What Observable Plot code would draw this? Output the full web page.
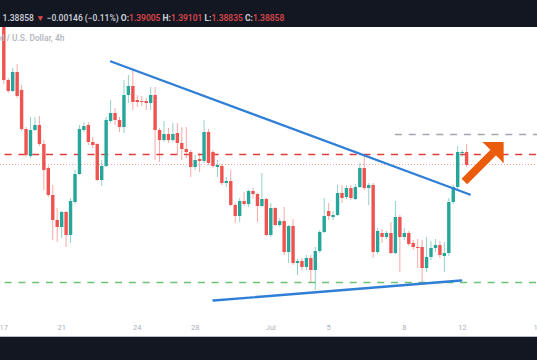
<!DOCTYPE html>
<html><head><meta charset="utf-8">
<script src="https://cdn.jsdelivr.net/npm/d3@7"></script>
<script src="https://cdn.jsdelivr.net/npm/@observablehq/plot@0.6"></script>
<style>
html,body{margin:0;padding:0;background:#fff;}
#wrap{position:relative;width:537px;height:360px;overflow:hidden;font-family:Roboto,"Noto Sans",sans-serif;background:#fff;}
#top{position:absolute;left:0;top:0;width:537px;height:27px;background:#131722;}
#hdr{position:absolute;left:2.6px;top:13px;font-size:8.5px;line-height:11px;color:#d1d4dc;white-space:nowrap;font-weight:500;}
#hdr .r{color:#e0474c;}
#hdr b{font-weight:700;color:#d1d4dc;}
#chart{position:absolute;left:0;top:27px;width:537px;height:309px;}
#chart svg{display:block;}
#title{position:absolute;top:32.5px;font-size:8.4px;line-height:11px;color:#b6b9c1;white-space:nowrap;font-weight:600;}
#sep{position:absolute;left:0;top:336px;width:537px;height:1px;background:#b9bcc3;}
#bot{position:absolute;left:0;top:337px;width:537px;height:23px;background:#131722;}
</style>
</head><body>
<div id="wrap">
  <div id="top"><div id="hdr"><span>1.38858</span> <span class="r">▼</span> <span>−0.00146 (−0.11%)</span> <b>O:</b><span class="r">1.39005</span> <b>H:</b><span class="r">1.39101</span> <b>L:</b><span class="r">1.38835</span> <b>C:</b><span class="r">1.38858</span></div></div>
  <div id="chart"></div>
  <div id="title"><span id="tpre">British Pound </span><span>/ U.S. Dollar, 4h</span></div>
  <div id="sep"></div>
  <div id="bot"></div>
</div>
<script>
// 4h candles, GBP/USD
const open = [1.4026,1.3970,1.3959,1.3978,1.3960,1.3921,1.3894,1.3920,1.3925,1.3906,
1.3882,1.3855,1.3830,1.3823,1.3838,1.3815,1.3848,1.3876,1.3920,1.3925,
1.3908,1.3906,1.3870,1.3884,1.3929,1.3937,1.3930,1.3923,1.3955,1.3964,
1.3950,1.3949,1.3949,1.3947,1.3955,1.3920,1.3910,1.3916,1.3910,1.3917,
1.3907,1.3901,1.3898,1.3883,1.3891,1.3889,1.3918,1.3898,1.3883,1.3884,
1.3867,1.3869,1.3845,1.3834,1.3849,1.3846,1.3859,1.3856,1.3844,1.3851,
1.3815,1.3842,1.3825,1.3829,1.3798,1.3824,1.3787,1.3789,1.3783,1.3792,
1.3780,1.3799,1.3818,1.3839,1.3833,1.3835,1.3857,1.3853,1.3862,1.3851,
1.3863,1.3882,1.3862,1.3865,1.3798,1.3817,1.3813,1.3817,1.3797,1.3833,
1.3813,1.3817,1.3807,1.3803,1.3803,1.3782,1.3793,1.3802,1.3805,1.3794,
1.3797,1.3848,1.3863,1.3897,1.3898];
const high = [1.4030,1.3972,1.3982,1.3986,1.3965,1.3923,1.3933,1.3933,1.3934,1.3910,
1.3884,1.3865,1.3842,1.3839,1.3839,1.3852,1.3880,1.3925,1.3928,1.3928,
1.3913,1.3907,1.3890,1.3933,1.3950,1.3942,1.3933,1.3970,1.3975,1.3980,
1.3955,1.3954,1.3952,1.3963,1.3963,1.3922,1.3929,1.3922,1.3927,1.3927,
1.3923,1.3923,1.3900,1.3895,1.3897,1.3930,1.3921,1.3900,1.3890,1.3886,
1.3873,1.3880,1.3847,1.3852,1.3858,1.3860,1.3862,1.3857,1.3877,1.3852,
1.3847,1.3843,1.3832,1.3843,1.3825,1.3831,1.3791,1.3792,1.3795,1.3795,
1.3803,1.3820,1.3852,1.3847,1.3839,1.3865,1.3865,1.3865,1.3865,1.3866,
1.3887,1.3896,1.3867,1.3867,1.3822,1.3821,1.3819,1.3828,1.3849,1.3835,
1.3822,1.3819,1.3810,1.3811,1.3810,1.3813,1.3809,1.3811,1.3809,1.3808,
1.3852,1.3865,1.3904,1.3900,1.3906];
const low = [1.3966,1.3957,1.3958,1.3952,1.3919,1.3893,1.3892,1.3919,1.3904,1.3860,
1.3853,1.3810,1.3808,1.3812,1.3803,1.3807,1.3846,1.3875,1.3918,1.3905,
1.3902,1.3869,1.3864,1.3883,1.3927,1.3925,1.3918,1.3917,1.3947,1.3940,
1.3943,1.3944,1.3940,1.3940,1.3890,1.3888,1.3908,1.3907,1.3908,1.3895,
1.3890,1.3892,1.3873,1.3880,1.3878,1.3887,1.3885,1.3882,1.3873,1.3865,
1.3863,1.3844,1.3827,1.3828,1.3844,1.3843,1.3851,1.3828,1.3843,1.3814,
1.3813,1.3824,1.3823,1.3795,1.3787,1.3785,1.3775,1.3780,1.3780,1.3768,
1.3760,1.3797,1.3817,1.3830,1.3830,1.3834,1.3847,1.3851,1.3850,1.3850,
1.3862,1.3860,1.3845,1.3792,1.3796,1.3807,1.3811,1.3796,1.3796,1.3778,
1.3810,1.3804,1.3800,1.3782,1.3767,1.3778,1.3790,1.3798,1.3792,1.3778,
1.3794,1.3846,1.3861,1.3893,1.3883];
const close = [1.3970,1.3959,1.3978,1.3954,1.3921,1.3895,1.3920,1.3925,1.3906,1.3880,
1.3855,1.3830,1.3823,1.3838,1.3815,1.3849,1.3876,1.3921,1.3924,1.3908,
1.3905,1.3870,1.3884,1.3930,1.3937,1.3930,1.3923,1.3955,1.3964,1.3948,
1.3948,1.3948,1.3947,1.3955,1.3920,1.3910,1.3916,1.3910,1.3916,1.3907,
1.3901,1.3898,1.3883,1.3890,1.3889,1.3918,1.3887,1.3884,1.3885,1.3867,
1.3869,1.3845,1.3834,1.3849,1.3846,1.3859,1.3856,1.3844,1.3851,1.3815,
1.3842,1.3825,1.3829,1.3798,1.3824,1.3787,1.3789,1.3783,1.3792,1.3780,
1.3799,1.3818,1.3834,1.3834,1.3835,1.3857,1.3852,1.3862,1.3852,1.3863,
1.3882,1.3862,1.3865,1.3798,1.3819,1.3813,1.3817,1.3797,1.3833,1.3813,
1.3817,1.3806,1.3803,1.3802,1.3782,1.3793,1.3802,1.3805,1.3795,1.3797,
1.3848,1.3863,1.3898,1.3898,1.3885];

// x-axis day labels at candle index
const tickIndex = [0, 13, 30, 43, 60, 73, 90, 103, 120];
const tickLabels = ["17", "21", "24", "28", "Jul", "5", "8", "12", "15"];

// horizontal levels
const resistancePrice = 1.3896;  // red dashed
const lastPrice = 1.3886;        // pink dotted
const targetPrice = 1.3916;      // gray dashed
const supportPrice = 1.3768;     // green dashed
const targetFrom = 88;

// trend lines (candle index, price)
const upperTrend = [{i: 24.1, p: 1.3989}, {i: 104.7, p: 1.3856}];
const lowerTrend = [{i: 47.1, p: 1.3750}, {i: 102.8, p: 1.3770}];

// breakout arrow
const arrowShaft = [{i: 103.5, p: 1.3869}, {i: 110.0, p: 1.3898}];
const arrowHead = [{i: 107.7, p: 1.3908}, {i: 112.2, p: 1.3908}, {i: 112.2, p: 1.3888}];

const UP = "#26a69a", DOWN = "#ef5350";
const candles = open.map((o, k) => ({i: k, o, h: high[k], l: low[k], c: close[k], col: close[k] >= o ? UP : DOWN}));
const labelOf = new Map(tickIndex.map((t, k) => [t, tickLabels[k]]));

const xmin = -0.742, xmax = 119.93;
const chart = Plot.plot({
  width: 537, height: 309,
  marginLeft: 0, marginRight: 0, marginTop: 0, marginBottom: 21,
  x: {type: "linear", domain: [xmin, xmax]},
  y: {domain: [1.3735, 1.4023], axis: null},
  color: {type: "identity"},
  style: {background: "#ffffff", overflow: "hidden"},
  marks: [
    Plot.ruleY([lastPrice], {x1: xmin, x2: xmax, stroke: "#f4a3a3", strokeWidth: 1, strokeDasharray: "1,2"}),
    Plot.ruleY([resistancePrice], {x1: 0.3, x2: xmax, stroke: "#e23b3b", strokeWidth: 1.6, strokeDasharray: "7,6.8"}),
    Plot.ruleY([supportPrice], {x1: 0.3, x2: xmax, stroke: "#6fc174", strokeWidth: 1.6, strokeDasharray: "7,6.8"}),
    Plot.ruleY([targetPrice], {x1: targetFrom, x2: xmax, stroke: "#a3a6ad", strokeWidth: 1.4, strokeDasharray: "7,6.8"}),
    Plot.ruleX(candles, {x: "i", y1: "l", y2: "h", stroke: "col", strokeOpacity: 0.5, strokeWidth: 1, clip: true}),
    Plot.ruleX(candles, {x: "i", y1: "o", y2: "c", stroke: "col", strokeWidth: 3.4, clip: true}),
    Plot.line(upperTrend, {x: "i", y: "p", stroke: "#2f7fd6", strokeWidth: 2.3}),
    Plot.line(lowerTrend, {x: "i", y: "p", stroke: "#2f7fd6", strokeWidth: 2.3}),
    Plot.line(arrowShaft, {x: "i", y: "p", stroke: "#ea5c0b", strokeWidth: 8, strokeLinecap: "butt"}),
    Plot.line(arrowHead, {x: "i", y: "p", fill: "#ea5c0b", stroke: "#ea5c0b", strokeWidth: 1, strokeLinejoin: "miter"}),
    Plot.axisX({ticks: tickIndex, tickFormat: d => labelOf.get(d), tickSize: 0, tickPadding: 9, fontSize: 7.5, fill: "#aeb1b9", label: null, fontFamily: "Roboto, sans-serif"})
  ]
});
document.getElementById("chart").appendChild(chart);

// place the partly hidden title so that "/" sits just right of the first candle
const pre = document.getElementById("tpre");
const t = document.getElementById("title");
t.style.left = (6.7 - pre.getBoundingClientRect().width) + "px";
</script>
</body></html>
